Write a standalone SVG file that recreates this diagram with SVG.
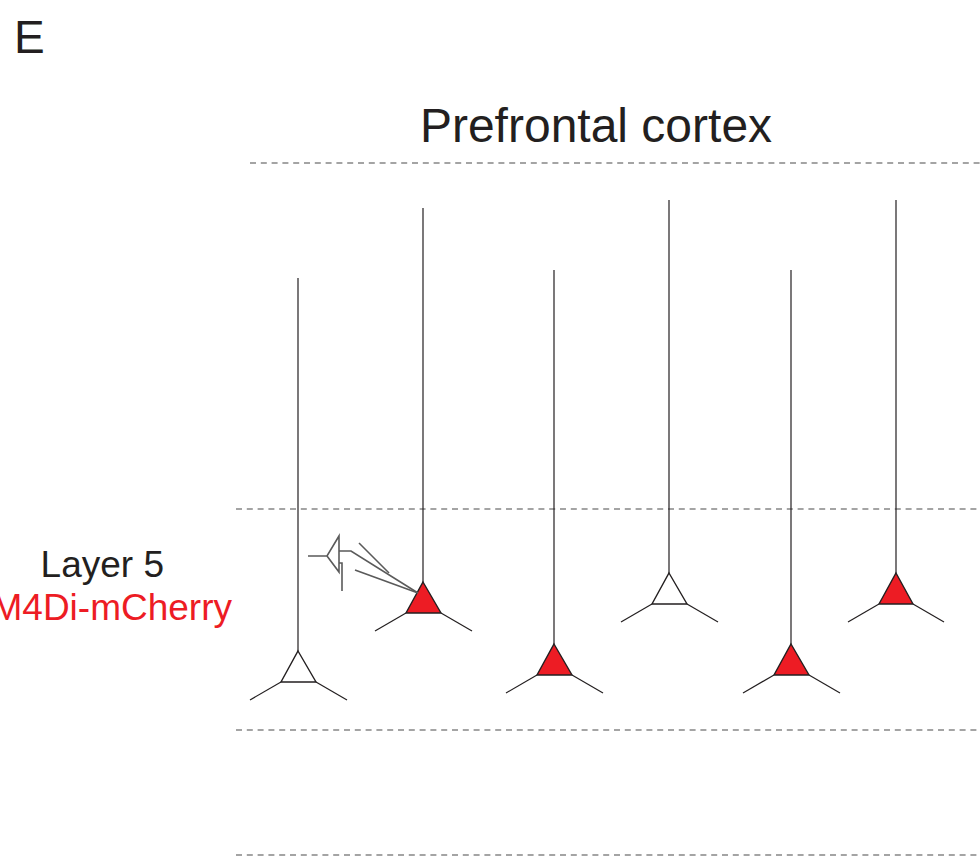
<svg xmlns="http://www.w3.org/2000/svg" width="980" height="857" viewBox="0 0 980 857">
  <style>
    .lbl { font-family: "Liberation Sans", Arial, sans-serif; fill: #231f20; }
    .red { fill: #ed1c24; }
    .layer { stroke: #4a4a4a; stroke-width: 1.2; stroke-dasharray: 6 4.8; fill: none; }
    .ln { stroke: #231f20; stroke-width: 1.2; fill: none; }
    .soma { stroke: #231f20; stroke-width: 1.4; fill: #ffffff; stroke-linejoin: miter; }
    .soma.on { fill: #ed1c24; }
    .probe { stroke: #5a5a5a; stroke-width: 1.6; fill: none; }
  </style>

  <rect width="980" height="857" fill="#ffffff"/>

  <text class="lbl" x="14" y="53" font-size="46">E</text>
  <text class="lbl" x="596" y="142" font-size="48" text-anchor="middle">Prefrontal cortex</text>
  <text class="lbl" x="164" y="577" font-size="37" text-anchor="end">Layer 5</text>
  <text class="lbl red" x="232" y="620" font-size="37" text-anchor="end">M4Di-mCherry</text>

  <!-- cortical layer boundaries -->
  <g id="layers">
    <line class="layer" x1="250" y1="163" x2="980" y2="163"/>
    <line class="layer" x1="236" y1="509" x2="980" y2="509"/>
    <line class="layer" x1="236" y1="730" x2="980" y2="730"/>
    <line class="layer" x1="236" y1="855" x2="980" y2="855"/>
  </g>

  <!-- pyramidal neurons: apical dendrite, soma, basal dendrites -->
  <g id="neuron1">
    <line class="ln" x1="298" y1="278" x2="298" y2="651"/>
    <line class="ln" x1="281" y1="682" x2="250" y2="700"/>
    <line class="ln" x1="316" y1="682" x2="347" y2="700"/>
    <polygon class="soma" points="298,651 316,682 281,682"/>
  </g>
  <g id="neuron2">
    <line class="ln" x1="423" y1="208" x2="423" y2="582"/>
    <line class="ln" x1="406" y1="613" x2="375" y2="631"/>
    <line class="ln" x1="441" y1="613" x2="472" y2="631"/>
    <polygon class="soma on" points="423,582 441,613 406,613"/>
  </g>
  <g id="neuron3">
    <line class="ln" x1="554" y1="270" x2="554" y2="644"/>
    <line class="ln" x1="537" y1="675" x2="506" y2="693"/>
    <line class="ln" x1="572" y1="675" x2="603" y2="693"/>
    <polygon class="soma on" points="554,644 572,675 537,675"/>
  </g>
  <g id="neuron4">
    <line class="ln" x1="669" y1="200" x2="669" y2="573"/>
    <line class="ln" x1="652" y1="604" x2="621" y2="622"/>
    <line class="ln" x1="687" y1="604" x2="718" y2="622"/>
    <polygon class="soma" points="669,573 687,604 652,604"/>
  </g>
  <g id="neuron5">
    <line class="ln" x1="791" y1="270" x2="791" y2="644"/>
    <line class="ln" x1="774" y1="675" x2="743" y2="693"/>
    <line class="ln" x1="809" y1="675" x2="840" y2="693"/>
    <polygon class="soma on" points="791,644 809,675 774,675"/>
  </g>
  <g id="neuron6">
    <line class="ln" x1="896" y1="200" x2="896" y2="573"/>
    <line class="ln" x1="879" y1="604" x2="848" y2="622"/>
    <line class="ln" x1="913" y1="604" x2="944" y2="622"/>
    <polygon class="soma on" points="896,573 913,604 879,604"/>
  </g>

  <!-- recording electrode with leads toward the labelled soma -->
  <g id="electrode">
    <polyline class="probe" points="308,556 327,556 339,536 339,572 327,556"/>
    <polyline class="probe" points="339,551 351,551 418,593"/>
    <polyline class="probe" points="339,563 342,563 342,591"/>
    <line class="probe" x1="359" y1="543" x2="389" y2="573"/>
    <line class="probe" x1="355" y1="570" x2="418" y2="593"/>
  </g>
</svg>
